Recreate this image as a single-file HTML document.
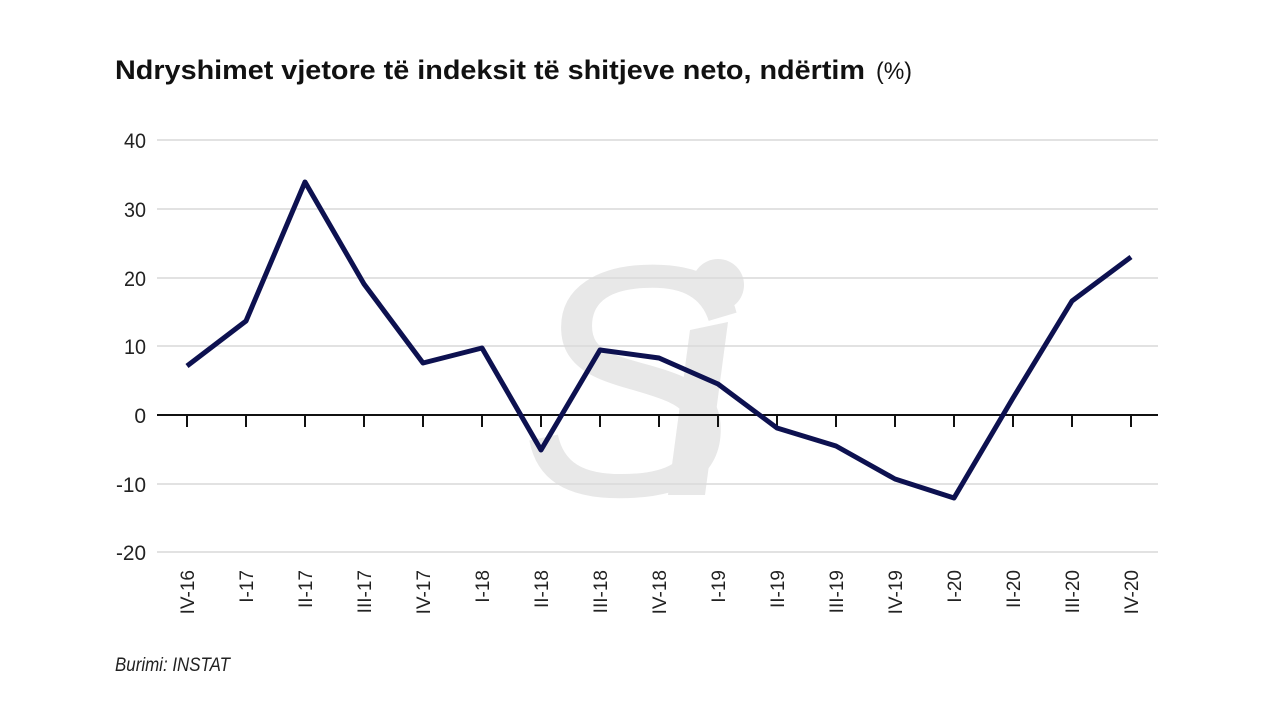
<!DOCTYPE html>
<html><head><meta charset="utf-8"><style>body{margin:0;background:#fff}svg{display:block}text{font-family:"Liberation Sans",sans-serif}</style></head><body>
<svg width="1280" height="720" viewBox="0 0 1280 720">
<text x="115" y="79" font-size="27" font-weight="bold" fill="#111" textLength="750" lengthAdjust="spacingAndGlyphs">Ndryshimet vjetore të indeksit të shitjeve neto, ndërtim</text>
<text x="876" y="79" font-size="24" fill="#111" textLength="36" lengthAdjust="spacingAndGlyphs">(%)</text>
<g fill="#e8e8e8">
<text x="520" y="495" font-size="330" font-family="Liberation Serif,serif" font-style="italic">S</text>
<circle cx="718" cy="285" r="26"/>
<polygon points="690,330 728,322 705,495 668,495"/>
</g>
<g stroke="#d9d9d9" stroke-width="1.5">
<line x1="157" x2="1158" y1="140" y2="140"/><line x1="157" x2="1158" y1="209" y2="209"/><line x1="157" x2="1158" y1="278" y2="278"/><line x1="157" x2="1158" y1="346" y2="346"/><line x1="157" x2="1158" y1="484" y2="484"/><line x1="157" x2="1158" y1="552" y2="552"/>
</g>
<line x1="157" x2="1158" y1="415" y2="415" stroke="#111" stroke-width="2"/>
<g stroke="#111" stroke-width="2">
<line x1="187" x2="187" y1="415" y2="427"/><line x1="246" x2="246" y1="415" y2="427"/><line x1="305" x2="305" y1="415" y2="427"/><line x1="364" x2="364" y1="415" y2="427"/><line x1="423" x2="423" y1="415" y2="427"/><line x1="482" x2="482" y1="415" y2="427"/><line x1="541" x2="541" y1="415" y2="427"/><line x1="600" x2="600" y1="415" y2="427"/><line x1="659" x2="659" y1="415" y2="427"/><line x1="718" x2="718" y1="415" y2="427"/><line x1="777" x2="777" y1="415" y2="427"/><line x1="836" x2="836" y1="415" y2="427"/><line x1="895" x2="895" y1="415" y2="427"/><line x1="954" x2="954" y1="415" y2="427"/><line x1="1013" x2="1013" y1="415" y2="427"/><line x1="1072" x2="1072" y1="415" y2="427"/><line x1="1131" x2="1131" y1="415" y2="427"/>
</g>
<g font-size="21" fill="#222" text-anchor="end">
<text x="146" y="148" textLength="22" lengthAdjust="spacingAndGlyphs">40</text><text x="146" y="217" textLength="22" lengthAdjust="spacingAndGlyphs">30</text><text x="146" y="286" textLength="22" lengthAdjust="spacingAndGlyphs">20</text><text x="146" y="354" textLength="22" lengthAdjust="spacingAndGlyphs">10</text><text x="146" y="423">0</text><text x="146" y="492" textLength="30" lengthAdjust="spacingAndGlyphs">-10</text><text x="146" y="560" textLength="30" lengthAdjust="spacingAndGlyphs">-20</text>
</g>
<g font-size="19" fill="#222" text-anchor="end">
<text transform="translate(194,570) rotate(-90)">IV-16</text>
<text transform="translate(253,570) rotate(-90)">I-17</text>
<text transform="translate(312,570) rotate(-90)">II-17</text>
<text transform="translate(371,570) rotate(-90)">III-17</text>
<text transform="translate(430,570) rotate(-90)">IV-17</text>
<text transform="translate(489,570) rotate(-90)">I-18</text>
<text transform="translate(548,570) rotate(-90)">II-18</text>
<text transform="translate(607,570) rotate(-90)">III-18</text>
<text transform="translate(666,570) rotate(-90)">IV-18</text>
<text transform="translate(725,570) rotate(-90)">I-19</text>
<text transform="translate(784,570) rotate(-90)">II-19</text>
<text transform="translate(843,570) rotate(-90)">III-19</text>
<text transform="translate(902,570) rotate(-90)">IV-19</text>
<text transform="translate(961,570) rotate(-90)">I-20</text>
<text transform="translate(1020,570) rotate(-90)">II-20</text>
<text transform="translate(1079,570) rotate(-90)">III-20</text>
<text transform="translate(1138,570) rotate(-90)">IV-20</text>
</g>
<polyline fill="none" stroke="#0d1150" stroke-width="5" stroke-linejoin="round" points="187,366 246,321 305,182 364,284 423,363 482,348 541,450 600,350 659,358 718,384 777,428 836,446 895,479 954,498 1013,398 1072,301 1131,257"/>
<text x="115" y="671" font-size="19" font-style="italic" fill="#222" textLength="115" lengthAdjust="spacingAndGlyphs">Burimi: INSTAT</text>
</svg>
</body></html>
